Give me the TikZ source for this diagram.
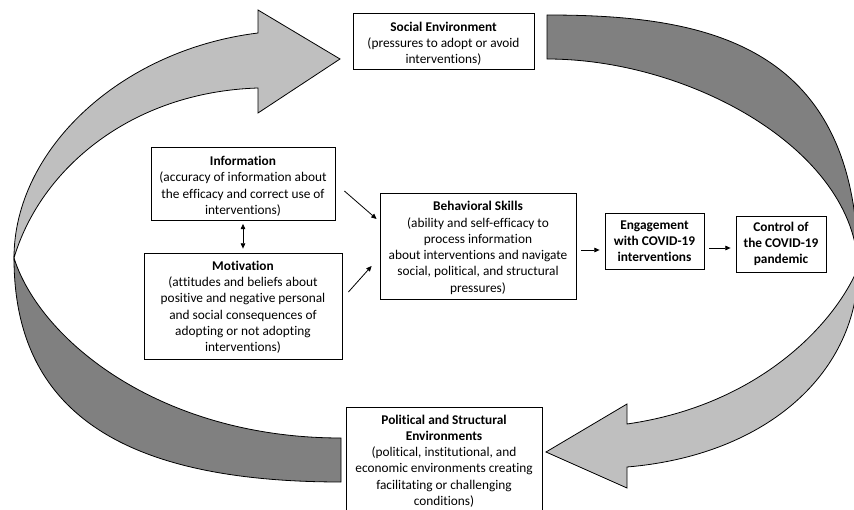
\documentclass[tikz,border=0pt]{standalone}
\usepackage{fontspec}
\setmainfont[Ligatures=NoCommon]{Carlito}
\usetikzlibrary{arrows.meta,calc}
\definecolor{lightarr}{RGB}{191,191,191}
\definecolor{darkarr}{RGB}{128,128,128}
\newcommand{\firststrut}[1]{\rule{0pt}{#1}}
\begin{document}
\begin{tikzpicture}[x=0.75pt,y=-0.75pt,
  band/.style={draw=black,line width=0.6pt,line join=miter},
  box/.style={draw=black,line width=0.6pt,fill=white,align=center,inner sep=0pt,
    font=\fontsize{10}{12.2}\selectfont},
  arr/.style={draw=black,line width=0.6pt,-{Triangle[length=4pt,width=3.5pt]}},
  darr/.style={draw=black,line width=0.6pt,{Triangle[length=4pt,width=3.5pt]}-{Triangle[length=4pt,width=3.5pt]}}]
\useasboundingbox (0,0) rectangle (854,510);
\clip (0,0) rectangle (854,510);
% left dark band
\path[band,fill=darkarr] (14,258) .. controls (14,410) and (120,482) .. (341,482)
  -- (341,438) .. controls (160,438) and (40,340) .. (14,258) -- cycle;
% left light arrow
\path[band,fill=lightarr] (14,258) .. controls (14,150) and (120,50) .. (258,33)
  -- (258,10) -- (340,59) -- (258,113) -- (258,88)
  .. controls (130,92) and (40,170) .. (14,258) -- cycle;
% right dark band
\path[band,fill=darkarr] (547,15) .. controls (700,15) and (858,40) .. (858,268)
  .. controls (855,150) and (690,59) .. (547,59) -- cycle;
% right light arrow
\path[band,fill=lightarr] (858,268) .. controls (858,370) and (770,455) .. (627,467)
  -- (627,488) -- (546,452) -- (627,404) -- (627,424)
  .. controls (760,405) and (835,323) .. (858,268) -- cycle;
% boxes
\node[box,minimum width=135.75pt,minimum height=42pt] (soc) at (443.5,41)
  {\firststrut{11pt}\textbf{Social Environment}\\(pressures to adopt or avoid\\interventions)};
\node[box,minimum width=138pt,minimum height=54.75pt] (info) at (243,183.5)
  {\firststrut{11pt}\textbf{Information}\\(accuracy of information about\\the efficacy and correct use of\\interventions)};
\node[box,minimum width=148.5pt,minimum height=79.5pt] (mot) at (243,306)
  {\firststrut{9pt}\textbf{Motivation}\\(attitudes and beliefs about\\positive and negative personal\\and social consequences\ of\\adopting or not adopting\\interventions)};
\node[box,minimum width=147pt,minimum height=79.5pt] (bs) at (478,246)
  {\firststrut{10pt}\textbf{Behavioral Skills}\\(ability and self-efficacy to\\process information\\about interventions and navigate\\social, political, and structural\\pressures)};
\node[box,minimum width=74.25pt,minimum height=42pt] (eng) at (654.5,241)
  {\textbf{Engagement}\\\textbf{with COVID-19}\\\textbf{interventions}};
\node[box,minimum width=67.5pt,minimum height=42pt] (ctrl) at (781,244)
  {\textbf{Control of}\\\textbf{the COVID-19}\\\textbf{pandemic}};
\node[box,minimum width=147pt,minimum height=81pt] (pol) at (444,461)
  {\textbf{Political and Structural}\\\textbf{Environments}\\(political, institutional, and\\economic environments creating\\facilitating or challenging\\conditions)};
% connectors
\draw[arr] ($(info.east)+(9,7.5)$) -- ($(bs.west)+(-3,-27)$);
\draw[arr] ($(mot.east)+(6,-14)$) -- ($(bs.west)+(-8,20)$);
\draw[darr] ($(info.south)+(0,3.5)$) -- ($(mot.north)+(0,-4)$);
\draw[arr] ($(bs.east)+(5,4)$) -- ($(eng.west)+(-5,9)$);
\draw[arr] ($(eng.east)+(5,7)$) -- ($(ctrl.west)+(-5,4)$);
\end{tikzpicture}
\end{document}
